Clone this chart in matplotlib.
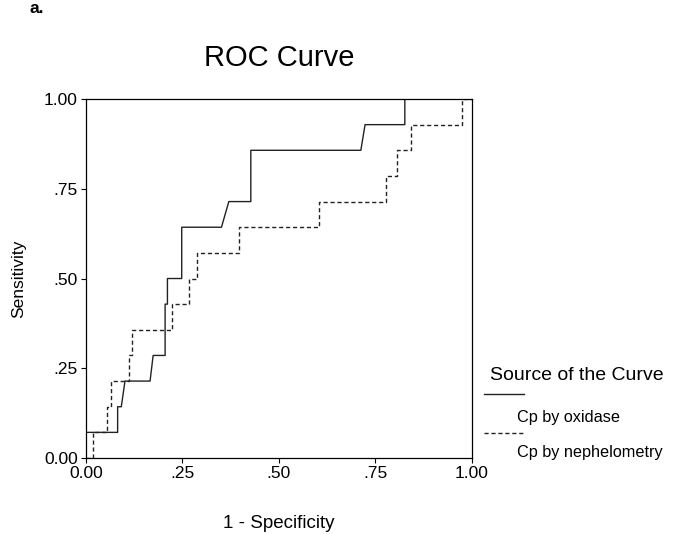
# ROC curve for two Cp methods (oxidase vs nephelometry)

import matplotlib
matplotlib.use('Agg')
import matplotlib.pyplot as plt
from matplotlib.lines import Line2D

plt.rcParams['font.family'] = ['Liberation Sans', 'DejaVu Sans']

# 14 positive cases -> sensitivity moves in steps of 1/14
n_pos = 14

# Cp by oxidase (1 - specificity, sensitivity count)
oxi_fpr = [0.0, 0.0, 0.082, 0.082, 0.0915, 0.101, 0.166, 0.174, 0.205, 0.205, 0.211, 0.211,
           0.248, 0.248, 0.351, 0.370, 0.427, 0.427, 0.712, 0.723, 0.826, 0.826, 1.0]
oxi_tp = [0, 1, 1, 2, 2, 3, 3, 4, 4, 6, 6, 7,
          7, 9, 9, 10, 10, 12, 12, 13, 13, 14, 14]

# Cp by nephelometry
neph_fpr = [0.0, 0.017, 0.017, 0.055, 0.055, 0.065, 0.065, 0.112, 0.112, 0.12, 0.12, 0.222,
            0.222, 0.268, 0.268, 0.287, 0.287, 0.397, 0.397, 0.604, 0.604, 0.777, 0.777,
            0.806, 0.806, 0.843, 0.843, 0.975, 0.975, 1.0]
neph_tp = [0, 0, 1, 1, 2, 2, 3, 3, 4, 4, 5, 5,
           6, 6, 7, 7, 8, 8, 9, 9, 10, 10, 11,
           11, 12, 12, 13, 13, 14, 14]

ticks = [0.0, 0.25, 0.5, 0.75, 1.0]
tick_labels = ['0.00', '.25', '.50', '.75', '1.00']

oxi_sens = [t / n_pos for t in oxi_tp]
neph_sens = [t / n_pos for t in neph_tp]

fig = plt.figure(figsize=(6.77, 5.34), dpi=100)
ax = fig.add_axes([0.127, 0.1423, 0.5702, 0.6723])

ax.plot(neph_fpr, neph_sens, color='#222222', lw=1.0, linestyle=(0, (3, 2)))
ax.plot(oxi_fpr, oxi_sens, color='#222222', lw=1.0)

ax.set_xlim(0, 1)
ax.set_ylim(0, 1)
ax.set_xticks(ticks)
ax.set_xticklabels(tick_labels)
ax.set_yticks(ticks)
ax.set_yticklabels(tick_labels)
ax.tick_params(direction='out', length=3.5, width=0.8, pad=2.5, labelsize=12.5, colors='black')
for sp in ax.spines.values():
    sp.set_linewidth(0.9)
    sp.set_color('black')

ax.set_title('ROC Curve', fontsize=21, pad=23.5)
ax.set_xlabel('1 - Specificity', fontsize=13.5, labelpad=24)
ax.set_ylabel('Sensitivity', fontsize=12.5, labelpad=12.5)

W, H = 677.0, 534.0
fig.text(30 / W, 1 - 13 / H, 'a.', fontsize=12.5, fontweight='bold', va='baseline')

# legend on the right, SPSS style
fig.text(490 / W, 1 - 380 / H, 'Source of the Curve', fontsize=14, va='baseline')
fig.add_artist(Line2D([484 / W, 524 / W], [1 - 394 / H, 1 - 394 / H], color='#222222', lw=1.0))
fig.text(517 / W, 1 - 422 / H, 'Cp by oxidase', fontsize=11.7, va='baseline')
fig.add_artist(Line2D([484 / W, 525 / W], [1 - 432.5 / H, 1 - 432.5 / H], color='#222222',
                      lw=1.0, linestyle=(0, (3, 2))))
fig.text(517 / W, 1 - 457 / H, 'Cp by nephelometry', fontsize=11.7, va='baseline')

fig.savefig('out.png', dpi=100)
